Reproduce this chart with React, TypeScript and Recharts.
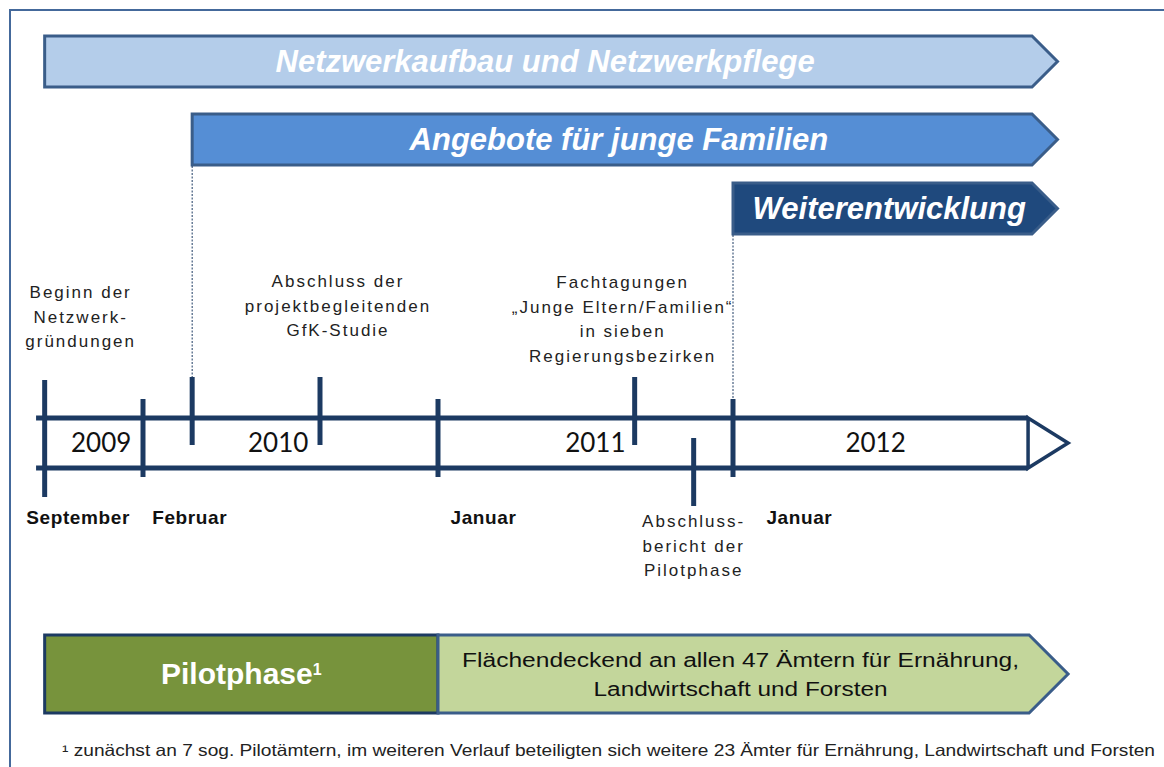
import React from 'react';
import { ComposedChart, XAxis, YAxis, ReferenceArea, ReferenceLine, Scatter } from 'recharts';

// time axis in months, 0 = January 2009, 12 = January 2010 ...
const phaseNames = ['Netzwerkaufbau und Netzwerkpflege', 'Angebote für junge Familien', 'Weiterentwicklung'];
const phaseStart = [8, 14, 36];
const phaseEnd = [49.2, 49.2, 49.2];

const yearLabels = ['2009', '2010', '2011', '2012'];
const yearCenters = [10.3, 17.5, 30.4, 41.8];
const yearBounds = [12, 24, 36];

const monthLabels = ['September', 'Februar', 'Januar', 'Januar'];
const monthCenters = [9.36, 13.9, 25.85, 38.7];

const milestoneDates = [8, 14, 19.2, 32, 34.4];
const milestoneSides = ['both', 'up', 'up', 'up', 'down'];

const noteDates = [8, 19.2, 32, 34.4];
const noteLines = [
  ['Beginn der', 'Netzwerk-', 'gründungen'],
  ['Abschluss der', 'projektbegleitenden', 'GfK-Studie'],
  ['Fachtagungen', '„Junge Eltern/Familien“', 'in sieben', 'Regierungsbezirken'],
  ['Abschluss-', 'bericht der', 'Pilotphase'],
];

const stageNames = ['Pilotphase', 'Flächendeckend  an allen 47 Ämtern für Ernährung,|Landwirtschaft und Forsten'];
const stageStart = [8, 24];
const stageEnd = [24, 49.63];

const timelineStart = 7.65;
const timelineEnd = 49.63;

const footnote = '¹ zunächst an 7 sog. Pilotämtern, im weiteren Verlauf  beteiligten sich weitere 23 Ämter für Ernährung, Landwirtschaft und Forsten';

// layout
const W = 1164;
const H = 767;
const PX_PER_MONTH = 295 / 12;
const X_DOMAIN = [12 - 143 / PX_PER_MONTH, 12 + (W - 143) / PX_PER_MONTH];
const PHASE_TOP = [36, 114, 183];
const PHASE_H = 51;
const LINE_TOP = 418;
const LINE_BOTTOM = 468;
const YEAR_BASE = 452;
const MONTH_BASE = 524;
const STAGE_TOP = 635;
const STAGE_BOTTOM = 713;
const NOTE_DX = [36, 18, -12, 0];
const NOTE_Y = [298, 287, 288, 527];
const STAGE_LINE_W = [557, 294];
const SPAN: any = { both: [380, 497], up: [377, 445], down: [438, 506], year: [399, 477] };

const NAVY = '#1C3A62';
const EDGE = '#3A5D89';
const PHASE_FILL = ['#B4CDEA', '#558ED5', '#1F497D'];
const STAGE_FILL = ['#77933C', '#C3D69B'];
const ARIAL = '"Liberation Sans", Arial, sans-serif';

const phaseShape = (i: number) => (props: any) => {
  const { x, y, width, height } = props;
  const d = height / 2;
  const pts = `${x},${y} ${x + width - d},${y} ${x + width},${y + height / 2} ${x + width - d},${y + height} ${x},${y + height}`;
  return (
    <g>
      <polygon points={pts} fill={PHASE_FILL[i]} stroke={EDGE} strokeWidth={3} />
      <text x={x + width / 2 - 6} y={y + height / 2 + 10} textAnchor="middle" fill="#fff"
        fontFamily={ARIAL} fontWeight="bold" fontStyle="italic" fontSize={31}>{phaseNames[i]}</text>
    </g>
  );
};

const timelineShape = (props: any) => {
  const { x, y, width, height } = props;
  const end = x + width - 40;
  return (
    <g>
      <line x1={x} y1={y} x2={end} y2={y} stroke={NAVY} strokeWidth={5} />
      <line x1={x} y1={y + height} x2={end} y2={y + height} stroke={NAVY} strokeWidth={5} />
      <polygon points={`${end},${y} ${x + width},${y + height / 2} ${end},${y + height}`} fill="#fff" stroke={NAVY} strokeWidth={3.5} />
    </g>
  );
};

const stageShape = (i: number) => (props: any) => {
  const { x, y, width, height } = props;
  if (i === 0) {
    return (
      <g>
        <rect x={x} y={y} width={width} height={height} fill={STAGE_FILL[0]} stroke={NAVY} strokeWidth={3} />
        <text x={x + width / 2} y={y + height / 2 + 10} textAnchor="middle" fill="#fff"
          fontFamily={ARIAL} fontWeight="bold" fontSize={30}>
          {stageNames[0]}<tspan fontSize={16} dy={-9}>1</tspan>
        </text>
      </g>
    );
  }
  const d = height / 2;
  const pts = `${x},${y} ${x + width - d},${y} ${x + width},${y + height / 2} ${x + width - d},${y + height} ${x},${y + height}`;
  const lines = stageNames[1].split('|');
  const cx = x + (width - d) / 2 + 7;
  return (
    <g>
      <polygon points={pts} fill={STAGE_FILL[1]} stroke={EDGE} strokeWidth={3} />
      {lines.map((l, k) => (
        <text key={k} x={cx} y={y + 32 + k * 29} textAnchor="middle" fill="#111" fontFamily={ARIAL} fontSize={20}
          textLength={STAGE_LINE_W[k]} lengthAdjust="spacingAndGlyphs">{l}</text>
      ))}
    </g>
  );
};

const yearData = yearLabels.map((label, i) => ({ x: yearCenters[i], y: YEAR_BASE, label }));
const monthData = monthLabels.map((label, i) => ({ x: monthCenters[i], y: MONTH_BASE, label }));
const noteData = noteDates.map((d, i) => ({ x: d, y: NOTE_Y[i], lines: noteLines[i], dx: NOTE_DX[i] }));

const YearLabel = (p: any) => (
  <text x={p.cx} y={p.cy} textAnchor="middle" fontFamily="Lato, sans-serif" fontSize={26} fill="#111">{p.payload.label}</text>
);
const MonthLabel = (p: any) => (
  <text x={p.cx} y={p.cy} textAnchor="middle" fontFamily={ARIAL} fontWeight="bold" fontSize={19} letterSpacing={0.6} fill="#111">{p.payload.label}</text>
);
const NoteLabel = (p: any) => (
  <text x={p.cx + p.payload.dx} y={p.cy} textAnchor="middle" fontFamily={ARIAL} fontSize={17} letterSpacing={2} fill="#222">
    {p.payload.lines.map((l: string, k: number) => (
      <tspan key={k} x={p.cx + p.payload.dx} dy={k === 0 ? 0 : 24.5}>{l}</tspan>
    ))}
  </text>
);

export default function App() {
  return (
    <div style={{ position: 'absolute', left: 0, top: 0, width: W, height: H, overflow: 'hidden', background: '#fff' }}>
      <div style={{ position: 'absolute', left: 9, top: 9, width: W + 50, height: H + 50, border: '2px solid #44699B' }} />
      <div style={{ position: 'absolute', left: 0, top: 0 }}>
        <ComposedChart width={W} height={H} margin={{ top: 0, right: 0, bottom: 0, left: 0 }}>
          <XAxis type="number" dataKey="x" domain={X_DOMAIN} allowDataOverflow hide />
          <YAxis type="number" dataKey="y" domain={[0, H]} reversed allowDataOverflow hide />

          {phaseNames.map((n, i) => (
            <ReferenceArea key={n} x1={phaseStart[i]} x2={phaseEnd[i]} y1={PHASE_TOP[i]} y2={PHASE_TOP[i] + PHASE_H}
              shape={phaseShape(i)} ifOverflow="visible" />
          ))}

          {phaseStart.slice(1).map((s, i) => (
            <ReferenceLine key={'c' + i} segment={[{ x: s, y: PHASE_TOP[i + 1] + PHASE_H + 1 }, { x: s, y: i === 0 ? SPAN.up[0] : SPAN.year[0] }]}
              stroke={NAVY} strokeWidth={1} strokeDasharray="2 1.5" ifOverflow="visible" />
          ))}

          <ReferenceArea x1={timelineStart} x2={timelineEnd} y1={LINE_TOP} y2={LINE_BOTTOM} shape={timelineShape} ifOverflow="visible" />

          {yearBounds.map((b) => (
            <ReferenceLine key={'y' + b} segment={[{ x: b, y: SPAN.year[0] }, { x: b, y: SPAN.year[1] }]}
              stroke={NAVY} strokeWidth={5} ifOverflow="visible" />
          ))}
          {milestoneDates.map((m, i) => (
            <ReferenceLine key={'m' + i} segment={[{ x: m, y: SPAN[milestoneSides[i]][0] }, { x: m, y: SPAN[milestoneSides[i]][1] }]}
              stroke={NAVY} strokeWidth={5} ifOverflow="visible" />
          ))}

          {stageNames.map((n, i) => (
            <ReferenceArea key={'s' + i} x1={stageStart[i]} x2={stageEnd[i]} y1={STAGE_TOP} y2={STAGE_BOTTOM}
              shape={stageShape(i)} ifOverflow="visible" />
          ))}

          <Scatter data={yearData} dataKey="y" shape={YearLabel} isAnimationActive={false} />
          <Scatter data={monthData} dataKey="y" shape={MonthLabel} isAnimationActive={false} />
          <Scatter data={noteData} dataKey="y" shape={NoteLabel} isAnimationActive={false} />
        </ComposedChart>
      </div>
      <svg style={{ position: 'absolute', left: 0, top: 0 }} width={W} height={H} pointerEvents="none">
        <text x={62} y={756} fontFamily={ARIAL} fontSize={16.5} fill="#222" textLength={1093} lengthAdjust="spacingAndGlyphs">{footnote}</text>
      </svg>
    </div>
  );
}
